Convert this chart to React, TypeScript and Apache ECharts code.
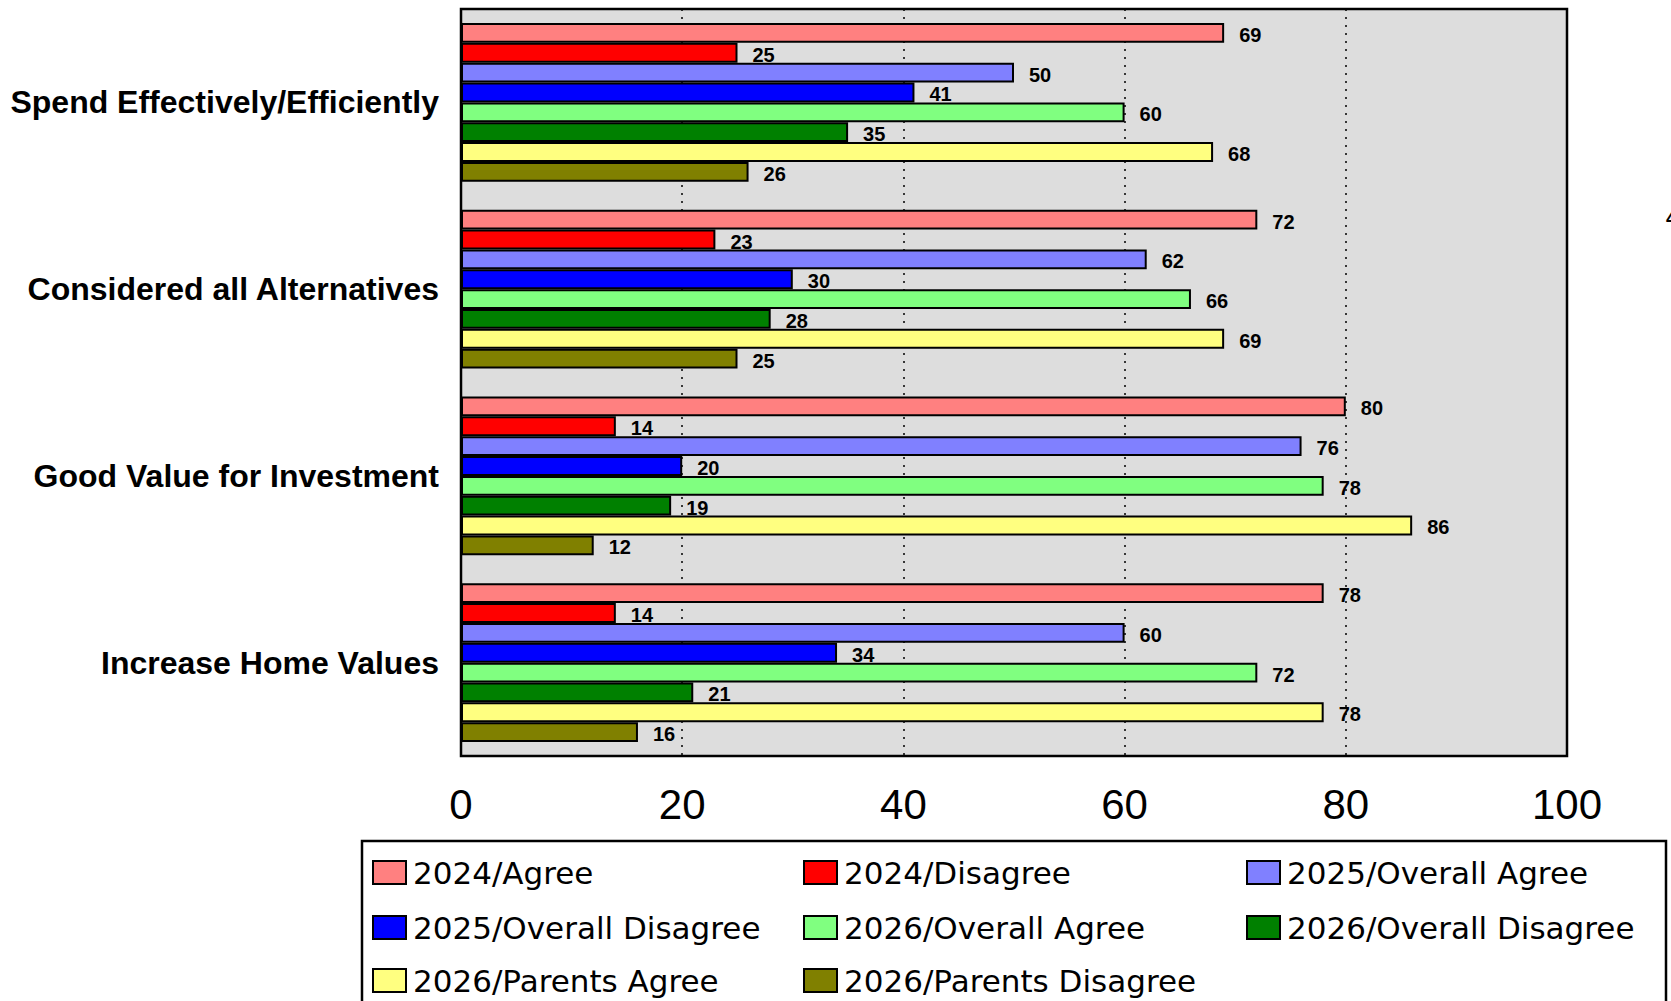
import React, { useEffect, useRef } from "react";
import * as echarts from "echarts";

const categories = [
  "Spend Effectively/Efficiently",
  "Considered all Alternatives",
  "Good Value for Investment",
  "Increase Home Values",
];

const seriesNames = [
  "2024/Agree",
  "2024/Disagree",
  "2025/Overall Agree",
  "2025/Overall Disagree",
  "2026/Overall Agree",
  "2026/Overall Disagree",
  "2026/Parents Agree",
  "2026/Parents Disagree",
];

const agree2024 = [69, 72, 80, 78];
const disagree2024 = [25, 23, 14, 14];
const overallAgree2025 = [50, 62, 76, 60];
const overallDisagree2025 = [41, 30, 20, 34];
const overallAgree2026 = [60, 66, 78, 72];
const overallDisagree2026 = [35, 28, 19, 21];
const parentsAgree2026 = [68, 69, 86, 78];
const parentsDisagree2026 = [26, 25, 12, 16];

const seriesValues = [
  agree2024,
  disagree2024,
  overallAgree2025,
  overallDisagree2025,
  overallAgree2026,
  overallDisagree2026,
  parentsAgree2026,
  parentsDisagree2026,
];

const seriesColors = [
  "#FF8080",
  "#FF0000",
  "#8080FF",
  "#0000FF",
  "#80FF80",
  "#008000",
  "#FFFF80",
  "#808000",
];

const xTicks = { min: 0, max: 100, interval: 20 };

const legendCols = [372, 803, 1246];
const legendRows = [857, 912, 965];

export default function App() {
  const ref = useRef<HTMLDivElement>(null);

  useEffect(() => {
    if (!ref.current) return;
    const chart = echarts.init(ref.current, undefined, { renderer: "svg" });

    const legends = seriesNames.map((name, i) => ({
      data: [name],
      left: legendCols[i % 3],
      top: legendRows[Math.floor(i / 3)],
      orient: "horizontal",
      padding: 0,
      itemWidth: 33,
      itemHeight: 23,
      icon: "rect",
      itemStyle: { borderColor: "#000", borderWidth: 2 },
      textStyle: {
        fontFamily: "DejaVu Sans",
        fontSize: 31,
        color: "#000",
        padding: [0, 0, 0, 2],
      },
      selectedMode: false,
    }));

    const option: any = {
      animation: false,
      backgroundColor: "#ffffff",
      grid: {
        left: 461,
        top: 9,
        width: 1106,
        height: 747,
        show: true,
        backgroundColor: "#DDDDDD",
        borderColor: "#000",
        borderWidth: 2.5,
        containLabel: false,
      },
      legend: legends,
      xAxis: {
        type: "value",
        min: xTicks.min,
        max: xTicks.max,
        interval: xTicks.interval,
        axisLine: { show: false },
        axisTick: { show: false },
        axisLabel: {
          fontFamily: "Liberation Sans, Arial, sans-serif",
          fontSize: 42,
          color: "#000",
          margin: 27,
        },
        splitLine: {
          show: true,
          lineStyle: { color: "#000", type: [2, 6], width: 1.5 },
        },
      },
      yAxis: {
        type: "category",
        data: categories,
        inverse: true,
        axisLine: { show: false },
        axisTick: { show: false },
        axisLabel: {
          fontFamily: "Liberation Sans, Arial, sans-serif",
          fontWeight: "bold",
          fontSize: 32,
          color: "#000",
          margin: 22,
          padding: [4, 0, 0, 0],
        },
        splitLine: { show: false },
      },
      series: seriesNames.map((name, i) => ({
        name,
        type: "bar",
        data: seriesValues[i],
        barGap: "0%",
        barCategoryGap: "15%",
        itemStyle: {
          color: seriesColors[i],
          borderColor: "#000",
          borderWidth: 2,
        },
        label: {
          show: true,
          position: "right",
          distance: 15,
          offset: [0, 2],
          fontFamily: "Liberation Sans, Arial, sans-serif",
          fontWeight: "bold",
          fontSize: 20,
          color: "#000",
        },
      })),
      graphic: [
        {
          type: "rect",
          shape: { x: 362, y: 841, width: 1304, height: 200 },
          style: { fill: "none", stroke: "#000", lineWidth: 2.5 },
          silent: true,
        },
        {
          type: "text",
          x: 1666,
          y: 208,
          style: {
            text: "4",
            font: "bold 20px 'Liberation Sans', Arial, sans-serif",
            fill: "#000",
          },
          silent: true,
        },
      ],
    };

    chart.setOption(option);
    return () => chart.dispose();
  }, []);

  return (
    <div
      ref={ref}
      style={{ position: "fixed", left: 0, top: 0, width: 1671, height: 1001 }}
    />
  );
}
